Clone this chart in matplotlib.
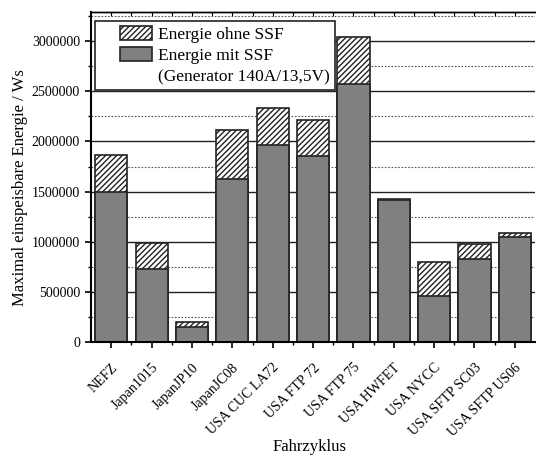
import matplotlib.pyplot as plt
import matplotlib.patches as mpatches
from matplotlib.legend_handler import HandlerPatch
from matplotlib.ticker import MultipleLocator, FuncFormatter
import numpy as np

plt.rcParams['font.family'] = ['Liberation Serif', 'DejaVu Serif']
plt.rcParams['hatch.linewidth'] = 1.0

# Daten
zyklen = ['NEFZ', 'Japan1015', 'JapanJP10', 'JapanJC08', 'USA CUC LA72',
          'USA FTP 72', 'USA FTP 75', 'USA HWFET', 'USA NYCC',
          'USA SFTP SC03', 'USA SFTP US06']
energie_ohne_ssf = [1860000, 985000, 199000, 2110000, 2330000, 2210000,
                    3040000, 1430000, 800000, 975000, 1085000]
energie_mit_ssf = [1500000, 726000, 152000, 1630000, 1960000, 1852000,
                   2567000, 1416000, 458000, 826000, 1045000]

x = np.arange(len(zyklen))

fig = plt.figure(figsize=(5.36, 4.57), dpi=100)
ax = fig.add_axes([0.170, 0.251, 0.828, 0.723])

# Gitter
ax.yaxis.set_major_locator(MultipleLocator(500000))
ax.yaxis.set_minor_locator(MultipleLocator(250000))
ax.grid(True, which='major', axis='y', color='#222222', linewidth=1.0, linestyle='-')
ax.grid(True, which='minor', axis='y', color='#555555', linewidth=0.8, linestyle=(0, (1.5, 1.5)))
ax.set_axisbelow(True)

# Balken
ax.bar(x, energie_ohne_ssf, width=0.8, color='white', edgecolor='#222222',
       hatch='//////', linewidth=1.2)
ax.bar(x, energie_mit_ssf, width=0.8, color='#808080', edgecolor='#222222',
       linewidth=1.2)

ax.set_xlim(-0.5, 10.5)
ax.set_ylim(0, 3290000)

ax.set_xticks(x)
ax.set_xticks(x[:-1] + 0.5, minor=True)
ax.set_xticklabels(zyklen, rotation=45, ha='right', va='top',
                   rotation_mode='anchor', fontsize=9)
ax.yaxis.set_major_formatter(FuncFormatter(lambda v, p: '%d' % v))

ax.tick_params(axis='both', which='major', direction='out', length=4.5, width=1.2, labelsize=10)
ax.tick_params(axis='both', which='minor', direction='out', length=2.5, width=1.0)
ax.tick_params(axis='x', which='major', pad=9)

# kleine Striche oben
top = ax.secondary_xaxis('top')
top.set_xticks(x)
top.set_xticks(x[:-1] + 0.5, minor=True)
top.tick_params(which='both', direction='in', length=3, width=0.8, labeltop=False)
top.spines['top'].set_linewidth(1.0)

for s in ['left', 'bottom']:
    ax.spines[s].set_linewidth(1.5)
ax.spines['top'].set_linewidth(1.0)
ax.spines['right'].set_visible(False)

ax.set_ylabel('Maximal einspeisbare Energie / Ws', fontsize=12)
ax.yaxis.set_label_coords(-0.142, 0.467)
ax.set_xlabel('Fahrzyklus', fontsize=12)
ax.xaxis.set_label_coords(0.492, -0.293)


# Legende: Symbol etwas nach rechts eingerückt
def eingerueckt(legend, orig_handle, xdescent, ydescent, width, height, fontsize):
    off = 14
    return mpatches.Rectangle((-xdescent + off, -ydescent), width - off, height)


h1 = mpatches.Patch(facecolor='white', edgecolor='#222222', hatch='//////', linewidth=1.2)
h2 = mpatches.Patch(facecolor='#808080', edgecolor='#222222', linewidth=1.2)
h3 = mpatches.Patch(facecolor='none', edgecolor='none')
leg = ax.legend([h1, h2, h3],
                ['Energie ohne SSF', 'Energie mit SSF', '(Generator 140A/13,5V)'],
                handler_map={h1: HandlerPatch(patch_func=eingerueckt),
                             h2: HandlerPatch(patch_func=eingerueckt)},
                loc='upper left', bbox_to_anchor=(0.009, 0.973), borderaxespad=0,
                fontsize=12.5, frameon=True, fancybox=False, framealpha=1,
                handlelength=3.0, handleheight=0.9, labelspacing=0.22,
                handletextpad=0.3, borderpad=0.3)
leg.get_frame().set_edgecolor('#222222')
leg.get_frame().set_linewidth(1.2)

plt.savefig('out.png', dpi=100)
